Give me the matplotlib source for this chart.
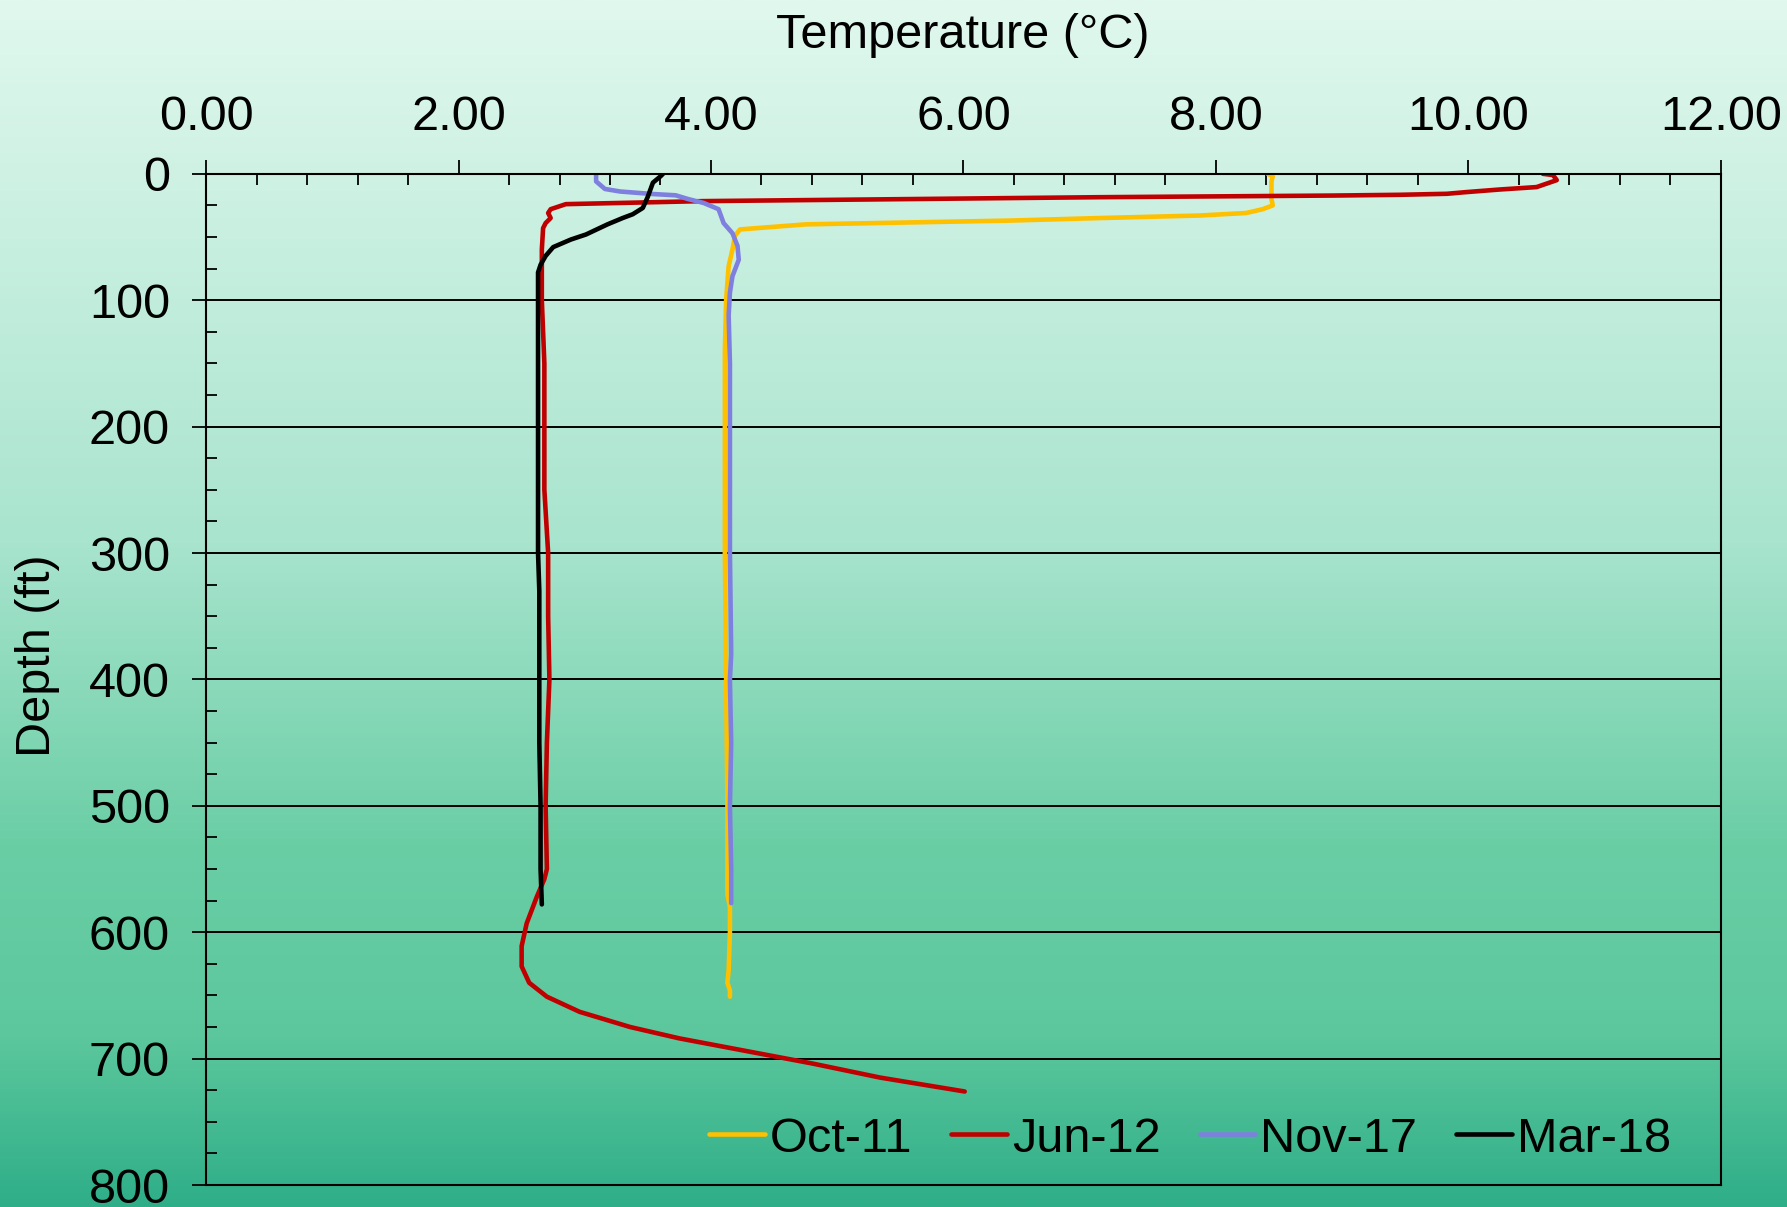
import numpy as np
import matplotlib
matplotlib.use("Agg")
import matplotlib.pyplot as plt
from matplotlib.ticker import MultipleLocator, FormatStrFormatter

plt.rcParams['font.family'] = ['Liberation Sans', 'DejaVu Sans']

# Temperature profiles (depth in ft, temperature in deg C)
oct11_depth = [0, 2, 6, 20, 25, 28, 31, 33, 35, 37, 40, 44, 49, 60, 73, 86, 100,
               140, 200, 300, 400, 500, 570, 580, 600, 630, 640, 646, 651]
oct11_temp = [8.41, 8.45, 8.44, 8.44, 8.45, 8.37, 8.24, 7.87, 7.08, 6.37, 4.75, 4.23,
              4.19, 4.17, 4.14, 4.13, 4.12, 4.11, 4.11, 4.11, 4.12, 4.13, 4.13, 4.15,
              4.15, 4.14, 4.13, 4.15, 4.15]

jun12_depth = [0, 1, 5, 10.5, 12.4, 14.5, 15.8, 16.6, 17.2, 18.5, 21.6, 24, 28, 31,
               35, 39, 43, 60, 100, 150, 200, 250, 300, 350, 400, 450, 500, 550, 558,
               572, 593, 611, 627, 640, 651, 663, 675, 684, 694, 704, 715, 726]
jun12_temp = [10.59, 10.67, 10.70, 10.54, 10.25, 9.98, 9.83, 9.46, 8.93, 7.08, 3.94,
              2.85, 2.73, 2.71, 2.73, 2.69, 2.67, 2.66, 2.66, 2.68, 2.68, 2.68, 2.71,
              2.71, 2.72, 2.70, 2.69, 2.70, 2.68, 2.62, 2.54, 2.50, 2.50, 2.56, 2.70,
              2.96, 3.36, 3.75, 4.28, 4.81, 5.34, 6.01]

nov17_depth = [0, 6, 12, 14, 16, 17, 20, 23, 28, 39, 47, 57, 68, 81, 94, 112, 150,
               200, 300, 380, 400, 450, 500, 550, 577]
nov17_temp = [3.09, 3.09, 3.16, 3.28, 3.54, 3.72, 3.82, 3.94, 4.06, 4.10, 4.17, 4.21,
              4.22, 4.17, 4.15, 4.14, 4.15, 4.15, 4.15, 4.16, 4.15, 4.16, 4.15, 4.16, 4.16]

mar18_depth = [0, 2, 7, 18, 27, 32, 35, 40, 48, 52, 58, 65, 72, 78, 100, 200, 300,
               330, 400, 450, 500, 550, 578]
mar18_temp = [3.62, 3.60, 3.54, 3.50, 3.46, 3.38, 3.30, 3.18, 3.01, 2.89, 2.75, 2.69,
              2.65, 2.63, 2.63, 2.63, 2.63, 2.64, 2.64, 2.64, 2.65, 2.65, 2.66]

labels = ['Oct-11', 'Jun-12', 'Nov-17', 'Mar-18']
colors = ['#FFC000', '#C00000', '#7F7FDF', '#000000']

fig = plt.figure(figsize=(17.87, 12.07), dpi=100)

# gradient background over the whole figure
bg = fig.add_axes([0, 0, 1, 1], zorder=-10)
stops = np.array([0.0, 0.45, 0.70, 0.86, 1.0])
stop_cols = np.array([[225, 248, 238], [168, 228, 206], [106, 206, 165],
                      [92, 199, 157], [46, 174, 136]]) / 255.0
t = np.linspace(0, 1, 600)
grad = np.stack([np.interp(t, stops, stop_cols[:, i]) for i in range(3)], axis=1)
bg.imshow(grad[:, None, :], aspect='auto', extent=[0, 1, 1, 0])
bg.set_axis_off()

ax = fig.add_axes([0.1153, 0.0182, 0.8477, 0.8378])
ax.set_facecolor('none')

series = [(oct11_temp, oct11_depth), (jun12_temp, jun12_depth),
          (nov17_temp, nov17_depth), (mar18_temp, mar18_depth)]
for (temp, depth), lab, col in zip(series, labels, colors):
    ax.plot(temp, depth, color=col, lw=3.3, label=lab, solid_capstyle='round')

ax.set_xlim(0, 12)
ax.set_ylim(800, 0)
ax.xaxis.tick_top()
ax.xaxis.set_label_position('top')
ax.xaxis.set_major_locator(MultipleLocator(2))
ax.xaxis.set_minor_locator(MultipleLocator(0.4))
ax.xaxis.set_major_formatter(FormatStrFormatter('%.2f'))
ax.yaxis.set_major_locator(MultipleLocator(100))
ax.yaxis.set_minor_locator(MultipleLocator(25))

ax.tick_params(axis='x', which='major', direction='out', length=10, width=1.3,
               pad=14, labelsize=35, top=True, bottom=False)
ax.tick_params(axis='x', which='minor', direction='in', length=8, width=1.3,
               top=True, bottom=False)
ax.tick_params(axis='y', which='major', direction='out', length=10, width=1.3,
               pad=16, labelsize=35)
ax.tick_params(axis='y', which='minor', direction='in', length=8, width=1.3)

ax.grid(True, axis='y', which='major', color='black', lw=1.4)
for sp in ax.spines.values():
    sp.set_linewidth(1.5)
    sp.set_color('black')

fig.text(0.539, 0.971, 'Temperature (\u00b0C)', fontsize=35, ha='center', va='center')
fig.text(0.021, 0.457, 'Depth (ft)', fontsize=35, ha='center', va='center', rotation=90)

ax.legend(loc='lower right', ncol=4, frameon=False, fontsize=35,
          handlelength=1.15, handletextpad=0.1, columnspacing=0.8,
          bbox_to_anchor=(0.996, -0.02))

fig.savefig('out.png', dpi=100)
